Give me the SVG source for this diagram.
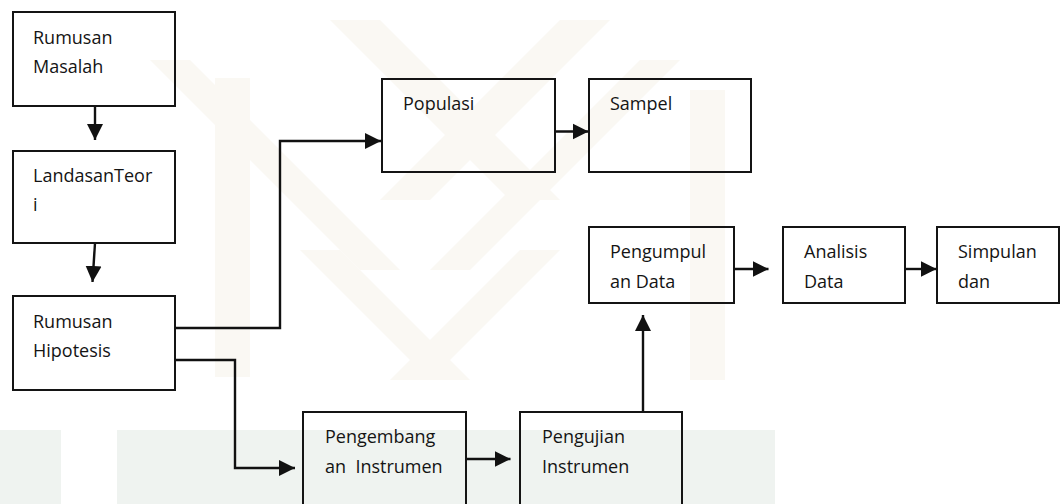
<svg xmlns="http://www.w3.org/2000/svg" width="1064" height="504" viewBox="0 0 1064 504">
  <defs>
    <style>
      .box { fill: none; stroke: #141414; stroke-width: 2; }
      .lbl { font-family: "Open Sans", "Liberation Sans", sans-serif; font-size: 18px; fill: #141414; white-space: pre; }
      .wire { fill: none; stroke: #111; stroke-width: 2.4; stroke-linejoin: miter; }
      .wm { fill: #faf8f3; }
      .wm2 { fill: #eff3f0; }
    </style>
    <marker id="head" markerUnits="userSpaceOnUse" markerWidth="17" markerHeight="17" viewBox="0 0 17 17" refX="16" refY="8.5" orient="auto">
      <path d="M0,0.5 L16,8.5 L0,16.5 Z" fill="#111"/>
    </marker>
  </defs>

  <rect width="1064" height="504" fill="#ffffff"/>

  <!-- faint background emblem -->
  <g id="watermark">
    <path class="wm" d="M215 78 H250 V377 H215 Z"/>
    <path class="wm" d="M330 20 L380 20 L560 200 L510 200 Z"/>
    <path class="wm" d="M560 20 L610 20 L430 200 L380 200 Z"/>
    <path class="wm" d="M150 60 L190 60 L400 270 L360 270 Z"/>
    <path class="wm" d="M640 60 L680 60 L470 270 L430 270 Z"/>
    <path class="wm" d="M300 250 L340 250 L470 380 L430 380 Z"/>
    <path class="wm" d="M520 250 L560 250 L430 380 L390 380 Z"/>
    <path class="wm" d="M690 90 H725 V380 H690 Z"/>
    <path class="wm2" d="M0 430 H61 V504 H0 Z"/>
    <path class="wm2" d="M117 430 H775 V504 H117 Z"/>
  </g>

  <!-- connectors -->
  <g id="connectors">
    <path class="wire" d="M95 106 V140" marker-end="url(#head)"/>
    <path class="wire" d="M95 243 L92.5 282" marker-end="url(#head)"/>
    <path class="wire" d="M175 328 H280 V141 H381" marker-end="url(#head)"/>
    <path class="wire" d="M175 360 H235 V468 H295" marker-end="url(#head)"/>
    <path class="wire" d="M555 131.5 H588.5" marker-end="url(#head)"/>
    <path class="wire" d="M466 459 H510.5" marker-end="url(#head)"/>
    <path class="wire" d="M643 412 V315" marker-end="url(#head)"/>
    <path class="wire" d="M734 269 H768.5" marker-end="url(#head)"/>
    <path class="wire" d="M905 269 H936.5" marker-end="url(#head)"/>
  </g>

  <g id="rumusan-masalah">
    <rect class="box" x="13" y="12" width="162" height="94"/>
    <text class="lbl" x="33" y="44">Rumusan</text>
    <text class="lbl" x="33" y="73">Masalah</text>
  </g>

  <g id="landasan-teori">
    <rect class="box" x="13" y="151" width="162" height="92"/>
    <text class="lbl" x="33" y="182">LandasanTeor</text>
    <text class="lbl" x="33" y="211">i</text>
  </g>

  <g id="rumusan-hipotesis">
    <rect class="box" x="13" y="296" width="162" height="94"/>
    <text class="lbl" x="33" y="328">Rumusan</text>
    <text class="lbl" x="33" y="357">Hipotesis</text>
  </g>

  <g id="populasi">
    <rect class="box" x="382" y="79" width="173" height="93"/>
    <text class="lbl" x="403" y="110">Populasi</text>
  </g>

  <g id="sampel">
    <rect class="box" x="589" y="79" width="162" height="93"/>
    <text class="lbl" x="610" y="110">Sampel</text>
  </g>

  <g id="pengumpulan-data">
    <rect class="box" x="589" y="227" width="145" height="76"/>
    <text class="lbl" x="610" y="258">Pengumpul</text>
    <text class="lbl" x="610" y="288">an Data</text>
  </g>

  <g id="analisis-data">
    <rect class="box" x="783" y="227" width="122" height="76"/>
    <text class="lbl" x="804" y="258">Analisis</text>
    <text class="lbl" x="804" y="288">Data</text>
  </g>

  <g id="simpulan">
    <rect class="box" x="937" y="227" width="122" height="76"/>
    <text class="lbl" x="958" y="258">Simpulan</text>
    <text class="lbl" x="958" y="288">dan</text>
  </g>

  <g id="pengembangan-instrumen">
    <rect class="box" x="303" y="412" width="163" height="100"/>
    <text class="lbl" x="325" y="443">Pengembang</text>
    <text class="lbl" x="325" y="473" xml:space="preserve">an  Instrumen</text>
  </g>

  <g id="pengujian-instrumen">
    <rect class="box" x="520" y="412" width="162" height="100"/>
    <text class="lbl" x="542" y="443">Pengujian</text>
    <text class="lbl" x="542" y="473">Instrumen</text>
  </g>
</svg>
